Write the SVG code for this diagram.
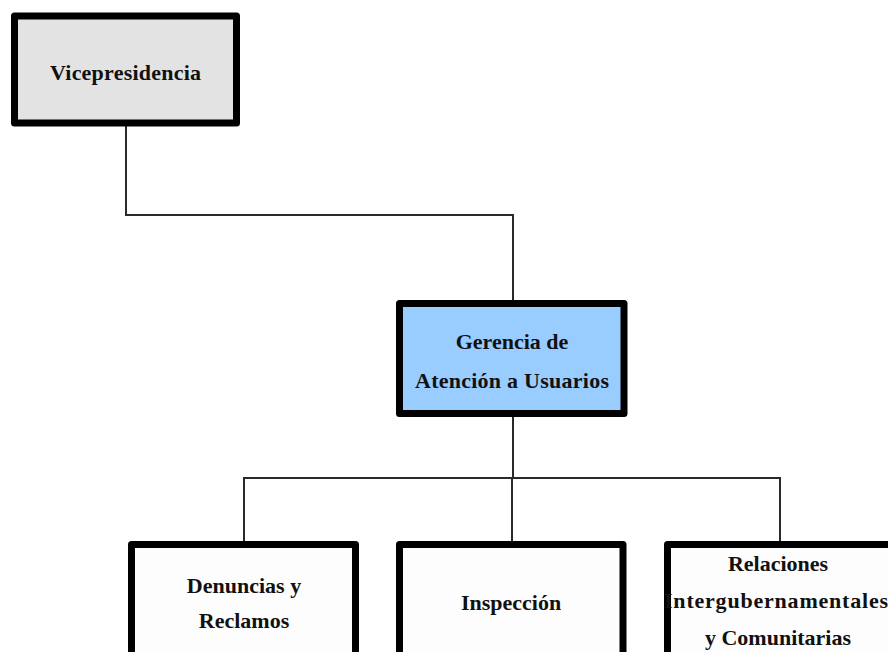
<svg xmlns="http://www.w3.org/2000/svg" width="888" height="652" viewBox="0 0 888 652">
<style>
.box{stroke:#000;stroke-width:7;stroke-linejoin:round}
.w{fill:#fdfdfd}
.t{font-family:"Liberation Serif","Times New Roman",serif;font-weight:bold;font-size:22px;fill:#111;text-anchor:middle}
.c{fill:none;stroke:#2a2a2a;stroke-width:2}
</style>
<rect width="888" height="652" fill="#fff"/>
<g id="connectors">
<polyline class="c" points="126,126 126,215 513,215 513,300"/>
<polyline class="c" points="513,417 513,478"/>
<polyline class="c" points="244,541 244,478 780,478 780,541"/>
<polyline class="c" points="512,478 512,541"/>
</g>
<g id="vicepresidencia">
<rect class="box" x="14.5" y="16" width="222" height="107" fill="#e3e3e3"/>
<text class="t" x="125.5" y="80" textLength="151">Vicepresidencia</text>
</g>
<g id="gerencia">
<rect class="box" x="399.5" y="303.5" width="224.5" height="110" fill="#99ccff"/>
<text class="t" x="512" y="349">Gerencia de</text>
<text class="t" x="512" y="388" textLength="194">Atención a Usuarios</text>
</g>
<g id="denuncias">
<rect class="w box" x="131.5" y="544.5" width="224" height="120"/>
<text class="t" x="244" y="593">Denuncias y</text>
<text class="t" x="244" y="628">Reclamos</text>
</g>
<g id="inspeccion">
<rect class="w box" x="399.5" y="544.5" width="223.5" height="120"/>
<text class="t" x="511" y="610">Inspección</text>
</g>
<g id="relaciones">
<rect class="w box" x="667.5" y="544.5" width="240" height="120"/>
<text class="t" x="778" y="571">Relaciones</text>
<text class="t" x="776" y="608" textLength="224">Intergubernamentales</text>
<text class="t" x="778" y="645">y Comunitarias</text>
</g>
</svg>
